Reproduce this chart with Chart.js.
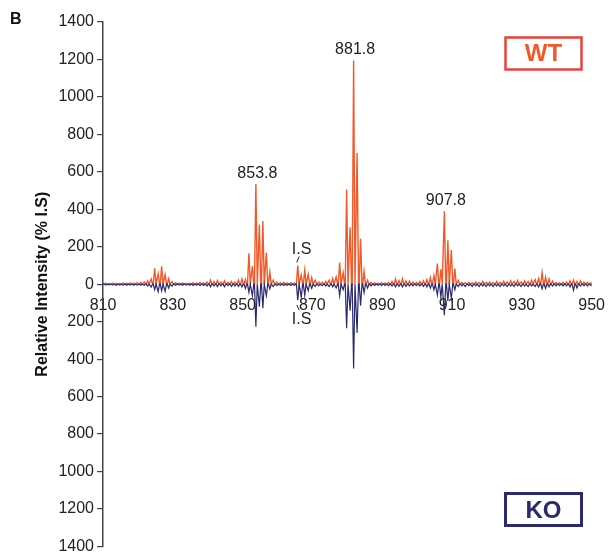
<!DOCTYPE html>
<html>
<head>
<meta charset="utf-8">
<script src="https://cdn.jsdelivr.net/npm/chart.js@4/dist/chart.umd.min.js"></script>
<style>
  html, body { margin: 0; padding: 0; background: #fff; }
  #wrap { width: 609px; height: 559px; position: relative; }
</style>
</head>
<body>
<div id="wrap"><canvas id="c" width="609" height="559"></canvas></div>
<script>
// m/z of each isotopic peak (Da)
const mz = [
  810.8, 811.8, 812.8, 813.8, 814.8, 815.8, 816.8, 817.8, 818.8, 819.8,
  820.8, 821.8, 822.8, 823.8, 824.8, 825.8, 826.8, 827.8, 828.8, 829.8,
  830.8, 831.8, 832.8, 833.8, 834.8, 835.8, 836.8, 837.8, 838.8, 839.8,
  840.8, 841.8, 842.8, 843.8, 844.8, 845.8, 846.8, 847.8, 848.8, 849.8,
  850.8, 851.8, 852.8, 853.8, 854.8, 855.8, 856.8, 857.8, 858.8, 859.8,
  860.8, 861.8, 862.8, 863.8, 864.8, 865.8, 866.8, 867.8, 868.8, 869.8,
  870.8, 871.8, 872.8, 873.8, 874.8, 875.8, 876.8, 877.8, 878.8, 879.8,
  880.8, 881.8, 882.8, 883.8, 884.8, 885.8, 886.8, 887.8, 888.8, 889.8,
  890.8, 891.8, 892.8, 893.8, 894.8, 895.8, 896.8, 897.8, 898.8, 899.8,
  900.8, 901.8, 902.8, 903.8, 904.8, 905.8, 906.8, 907.8, 908.8, 909.8,
  910.8, 911.8, 912.8, 913.8, 914.8, 915.8, 916.8, 917.8, 918.8, 919.8,
  920.8, 921.8, 922.8, 923.8, 924.8, 925.8, 926.8, 927.8, 928.8, 929.8,
  930.8, 931.8, 932.8, 933.8, 934.8, 935.8, 936.8, 937.8, 938.8, 939.8,
  940.8, 941.8, 942.8, 943.8, 944.8, 945.8, 946.8, 947.8, 948.8, 949.8
];
// WT relative intensity (% I.S), plotted upward
const wtIntensity = [
  5, 4, 6, 5, 4, 6, 5, 7, 6, 8,
  10, 12, 18, 28, 85, 55, 95, 52, 30, 14,
  8, 6, 7, 5, 6, 8, 7, 10, 8, 12,
  22, 14, 20, 12, 18, 10, 14, 12, 22, 28,
  25, 165, 97, 535, 318, 337, 168, 65, 22, 12,
  8, 10, 7, 8, 6, 100, 48, 74, 53, 35,
  21, 12, 10, 14, 21, 30, 39, 115, 62, 505,
  303, 1195, 700, 243, 68, 21, 10, 8, 6, 8,
  7, 10, 14, 28, 20, 30, 18, 16, 12, 10,
  14, 18, 24, 35, 45, 110, 80, 390, 235, 182,
  83, 20, 10, 8, 10, 7, 12, 9, 14, 10,
  12, 9, 14, 10, 16, 12, 18, 14, 20, 12,
  18, 14, 22, 25, 30, 62, 38, 28, 16, 10,
  8, 10, 12, 18, 22, 15, 18, 12, 10, 8
];
// KO relative intensity (% I.S), plotted downward
const koIntensity = [
  5, 4, 5, 6, 4, 5, 6, 5, 6, 5,
  6, 6, 10, 15, 30, 40, 35, 38, 20, 10,
  6, 5, 6, 5, 6, 7, 6, 8, 7, 10,
  14, 10, 13, 9, 14, 8, 12, 10, 12, 15,
  22, 44, 62, 227, 120, 128, 62, 25, 12, 8,
  6, 7, 6, 7, 6, 85, 70, 60, 35, 22,
  12, 9, 8, 10, 12, 14, 20, 62, 30, 235,
  142, 450, 260, 115, 45, 20, 10, 7, 6, 8,
  7, 9, 10, 14, 12, 15, 12, 10, 9, 8,
  10, 12, 15, 20, 30, 58, 70, 165, 90, 75,
  30, 12, 9, 12, 8, 12, 9, 12, 10, 12,
  9, 12, 10, 12, 9, 12, 10, 12, 9, 12,
  10, 12, 10, 12, 15, 25, 22, 15, 10, 9,
  8, 10, 9, 15, 33, 20, 10, 9, 10, 8
];
const xTicks = [810, 830, 850, 870, 890, 910, 930, 950];
const yTicks = [-1400, -1200, -1000, -800, -600, -400, -200, 0, 200, 400, 600, 800, 1000, 1200, 1400];
const labelledPeaks = [853.8, 881.8, 907.8];
const internalStandard = 865.8;

const ORANGE = '#F05A2A';
const NAVY = '#2B2A6C';
const FONT = '"Liberation Sans", Arial, Helvetica, sans-serif';
const HALF = 0.4; // half width of a profile peak, Da

function profile(values, sign) {
  const pts = [{x: 810, y: 0}];
  for (let i = 0; i < mz.length; i++) {
    pts.push({x: mz[i] - HALF, y: 0});
    pts.push({x: mz[i], y: sign * values[i]});
    pts.push({x: mz[i] + HALF, y: 0});
  }
  pts.push({x: 950, y: 0});
  return pts;
}

const annot = {
  id: 'annot',
  afterDatasetsDraw(chart) {
    const ctx = chart.ctx;
    const xs = chart.scales.x, ys = chart.scales.y;
    ctx.save();
    // panel letter
    ctx.fillStyle = '#111';
    ctx.font = 'bold 16px ' + FONT;
    ctx.textAlign = 'left';
    ctx.textBaseline = 'alphabetic';
    ctx.fillText('B', 10, 24);

    // peak labels
    ctx.font = '16px ' + FONT;
    ctx.fillStyle = '#222';
    ctx.textAlign = 'center';
    labelledPeaks.forEach(m => {
      const i = mz.indexOf(m);
      const px = xs.getPixelForValue(m);
      const py = ys.getPixelForValue(wtIntensity[i]);
      ctx.fillText(m.toFixed(1), px + 1.5, py - 6);
    });

    // internal standard labels
    const ii = mz.indexOf(internalStandard);
    const px = xs.getPixelForValue(internalStandard);
    const pyW = ys.getPixelForValue(wtIntensity[ii]);
    const pyK = ys.getPixelForValue(-koIntensity[ii]);
    ctx.strokeStyle = '#222';
    ctx.lineWidth = 1;
    ctx.beginPath();
    ctx.moveTo(px + 1.5, pyW - 9);
    ctx.lineTo(px - 1, pyW - 3);
    ctx.moveTo(px - 1, pyK + 5);
    ctx.lineTo(px + 1.5, pyK + 10);
    ctx.stroke();
    ctx.textAlign = 'left';
    ctx.fillText('I.S', px - 6, pyW - 11);
    ctx.fillText('I.S', px - 6, pyK + 24);

    // WT box
    ctx.lineWidth = 2.5;
    ctx.strokeStyle = '#E8433A';
    ctx.strokeRect(505.5, 37.5, 76, 32);
    ctx.fillStyle = ORANGE;
    ctx.font = 'bold 24px ' + FONT;
    ctx.textAlign = 'center';
    ctx.textBaseline = 'middle';
    ctx.fillText('WT', 543.5, 54.5);

    // KO box
    ctx.lineWidth = 3;
    ctx.strokeStyle = NAVY;
    ctx.strokeRect(505.5, 493.5, 76, 32);
    ctx.fillStyle = NAVY;
    ctx.fillText('KO', 543.5, 511);
    ctx.restore();
  }
};

new Chart(document.getElementById('c'), {
  type: 'line',
  data: {
    datasets: [
      { label: 'KO', data: profile(koIntensity, -1), borderColor: NAVY, borderWidth: 1.2,
        pointRadius: 0, tension: 0, fill: false },
      { label: 'WT', data: profile(wtIntensity, 1), borderColor: ORANGE, borderWidth: 1.4,
        pointRadius: 0, tension: 0, fill: false }
    ]
  },
  options: {
    responsive: false,
    animation: false,
    events: [],
    layout: { padding: { left: 0, right: 16, top: 22, bottom: 12 } },
    plugins: { legend: { display: false }, tooltip: { enabled: false } },
    scales: {
      x: {
        type: 'linear',
        min: 810, max: 950,
        position: { y: 0 },
        grid: { display: false },
        border: { display: false },
        afterBuildTicks(scale) { scale.ticks = xTicks.map(v => ({ value: v })); },
        ticks: { padding: 4, color: '#222', font: { family: FONT, size: 16 }, maxRotation: 0, autoSkip: false }
      },
      y: {
        type: 'linear',
        min: -1400, max: 1400,
        afterBuildTicks(scale) { scale.ticks = yTicks.map(v => ({ value: v })); },
        afterFit(scale) { scale.width = 103; },
        grid: { drawOnChartArea: false, drawTicks: true, tickLength: 6, color: '#444', lineWidth: 1.2 },
        border: { display: true, color: '#444', width: 1.5 },
        ticks: {
          padding: 3, color: '#222', autoSkip: false,
          font: { family: FONT, size: 16 },
          callback: v => String(Math.abs(v))
        },
        title: {
          display: true,
          text: 'Relative Intensity (% I.S)',
          color: '#111',
          font: { family: FONT, size: 16, weight: 'bold' },
          padding: { top: 33, bottom: 4 }
        }
      }
    }
  },
  plugins: [annot]
});
</script>
</body>
</html>
